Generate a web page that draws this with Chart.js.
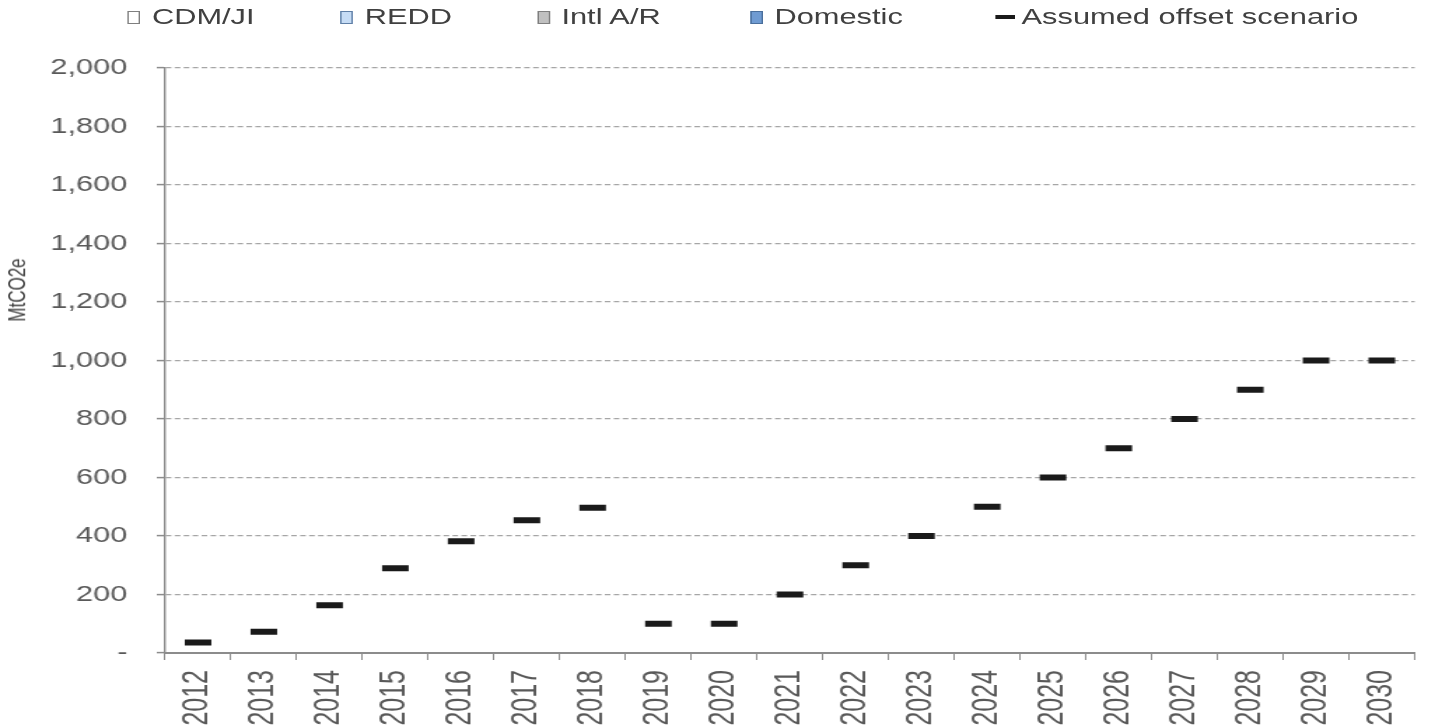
<!DOCTYPE html>
<html>
<head>
<meta charset="utf-8">
<title>Offset scenario</title>
<script src="https://cdn.jsdelivr.net/npm/chart.js@4.4.0/dist/chart.umd.min.js"></script>
<style>
    html, body { margin: 0; padding: 0; background: #fff; overflow: hidden; }
    /* the source picture is stretched sideways, so draw narrow and scale up */
    #stage { position: relative; width: 1026px; height: 727px; transform: scaleX(1.4); transform-origin: 0 0; }
    #chart { position: absolute; left: 0; top: 0; }
    #legend { position: absolute; top: 4px; left: 0; width: 1026px; height: 26px;
              font: 22px "Liberation Sans", Arial, sans-serif; color: #404040; white-space: nowrap; line-height: 26px; }
    .item { position: absolute; top: 0; display: flex; align-items: center; }
    .swatch { flex: none; width: 9px; height: 12.5px; box-sizing: border-box; border: 1px solid #7f7f7f; margin-right: 8.5px; margin-top: 1px; }
    .dash { flex: none; width: 14px; height: 4px; background: #1a1a1a; margin-right: 5px; }
    #ytitle { position: absolute; left: 13px; top: 290px; transform: translate(-50%, -50%) rotate(-90deg);
              font: 17px "Liberation Sans Narrow", "Liberation Sans", Arial, sans-serif; color: #404040; white-space: nowrap; }
</style>
</head>
<body>
<div id="stage">
    <canvas id="chart" width="1026" height="727"></canvas>
    <div id="legend"></div>
    <div id="ytitle">MtCO2e</div>
</div>
<script>
// categories
const years = ['2012', '2013', '2014', '2015', '2016', '2017', '2018', '2019', '2020', '2021',
               '2022', '2023', '2024', '2025', '2026', '2027', '2028', '2029', '2030'];

// stacked offset supply (nothing shown in the picture)
const cdmJi    = [0, 0, 0, 0, 0, 0, 0, 0, 0, 0, 0, 0, 0, 0, 0, 0, 0, 0, 0];
const redd     = [0, 0, 0, 0, 0, 0, 0, 0, 0, 0, 0, 0, 0, 0, 0, 0, 0, 0, 0];
const intlAR   = [0, 0, 0, 0, 0, 0, 0, 0, 0, 0, 0, 0, 0, 0, 0, 0, 0, 0, 0];
const domestic = [0, 0, 0, 0, 0, 0, 0, 0, 0, 0, 0, 0, 0, 0, 0, 0, 0, 0, 0];

// assumed offset scenario, MtCO2e
const offsetScenario = [36, 73, 163, 290, 382, 454, 497, 100, 100, 200,
                        300, 400, 500, 600, 700, 800, 900, 1000, 1000];

// y axis
const yMin = 0;
const yMax = 2000;
const yStep = 200;

// legend entry left edges (layout only, canvas px before the sideways stretch)
const legendLeft = [91, 243, 383.5, 535.7, 710.7];

//********************************************************************************
///Chart
//********************************************************************************
const axisGrey = '#8c8c8c';
const tickText = '#595959';

function barSet(label, data, fill, border) {
    return {
        type: 'bar',
        label: label,
        data: data,
        backgroundColor: fill,
        borderColor: border,
        borderWidth: 0,
        stack: 'supply',
        order: 2
    };
}

const chart = new Chart(document.getElementById('chart'), {
    data: {
        labels: years,
        datasets: [
            barSet('CDM/JI', cdmJi, '#ffffff', '#7f7f7f'),
            barSet('REDD', redd, '#c6dcf5', '#5f7fa6'),
            barSet('Intl A/R', intlAR, '#c0c0c0', '#7f7f7f'),
            barSet('Domestic', domestic, '#6f9bd2', '#4a6f9c'),
            {
                type: 'line',
                label: 'Assumed offset scenario',
                data: offsetScenario,
                showLine: false,
                pointStyle: 'line',
                pointRadius: 9.5,
                pointHoverRadius: 9.5,
                pointBorderWidth: 6,
                pointBorderColor: '#1a1a1a',
                borderColor: '#1a1a1a',
                order: 1
            }
        ]
    },
    options: {
        responsive: false,
        animation: false,
        events: [],
        layout: { padding: { top: 68, right: 2, bottom: 0, left: 0 } },
        plugins: {
            legend: { display: false },
            tooltip: { enabled: false }
        },
        scales: {
            x: {
                stacked: true,
                offset: true,
                grid: {
                    offset: true,
                    drawOnChartArea: false,
                    drawTicks: true,
                    tickLength: 7,
                    tickColor: axisGrey,
                    tickWidth: 1
                },
                border: { color: axisGrey, width: 2 },
                ticks: {
                    minRotation: 90,
                    maxRotation: 90,
                    padding: 10,
                    color: tickText,
                    font: { family: '"Liberation Sans Narrow", "Liberation Sans", Arial, sans-serif', size: 25 }
                },
                afterFit: (scale) => {
                    scale.height = 74;
                    scale.paddingLeft = 0;
                    scale.paddingRight = 0;
                }
            },
            y: {
                stacked: true,
                min: yMin,
                max: yMax,
                grid: {
                    color: '#a6a6a6',
                    lineWidth: 1.2,
                    tickLength: 6,
                    tickColor: axisGrey,
                    tickWidth: 1.5
                },
                border: { color: axisGrey, width: 1.4, dash: [4, 2.4] },
                ticks: {
                    stepSize: yStep,
                    padding: 21,
                    color: tickText,
                    font: { family: '"Liberation Sans", Arial, sans-serif', size: 22 },
                    callback: (v) => v === 0 ? '-' : v.toLocaleString('en-US')
                },
                afterFit: (scale) => {
                    scale.width = 118;
                    scale.paddingTop = 0;
                    scale.paddingBottom = 0;
                }
            }
        }
    }
});

//********************************************************************************
///Legend (built from the chart datasets)
//********************************************************************************
const legendBox = document.getElementById('legend');
chart.data.datasets.forEach((ds, i) => {
    const item = document.createElement('div');
    item.className = 'item';
    item.style.left = legendLeft[i] + 'px';
    const mark = document.createElement('span');
    if (ds.type === 'line') {
        mark.className = 'dash';
        mark.style.background = ds.pointBorderColor;
    } else {
        mark.className = 'swatch';
        mark.style.background = ds.backgroundColor;
        mark.style.borderColor = ds.borderColor;
    }
    const text = document.createElement('span');
    text.textContent = ds.label;
    item.appendChild(mark);
    item.appendChild(text);
    legendBox.appendChild(item);
});
</script>
</body>
</html>
